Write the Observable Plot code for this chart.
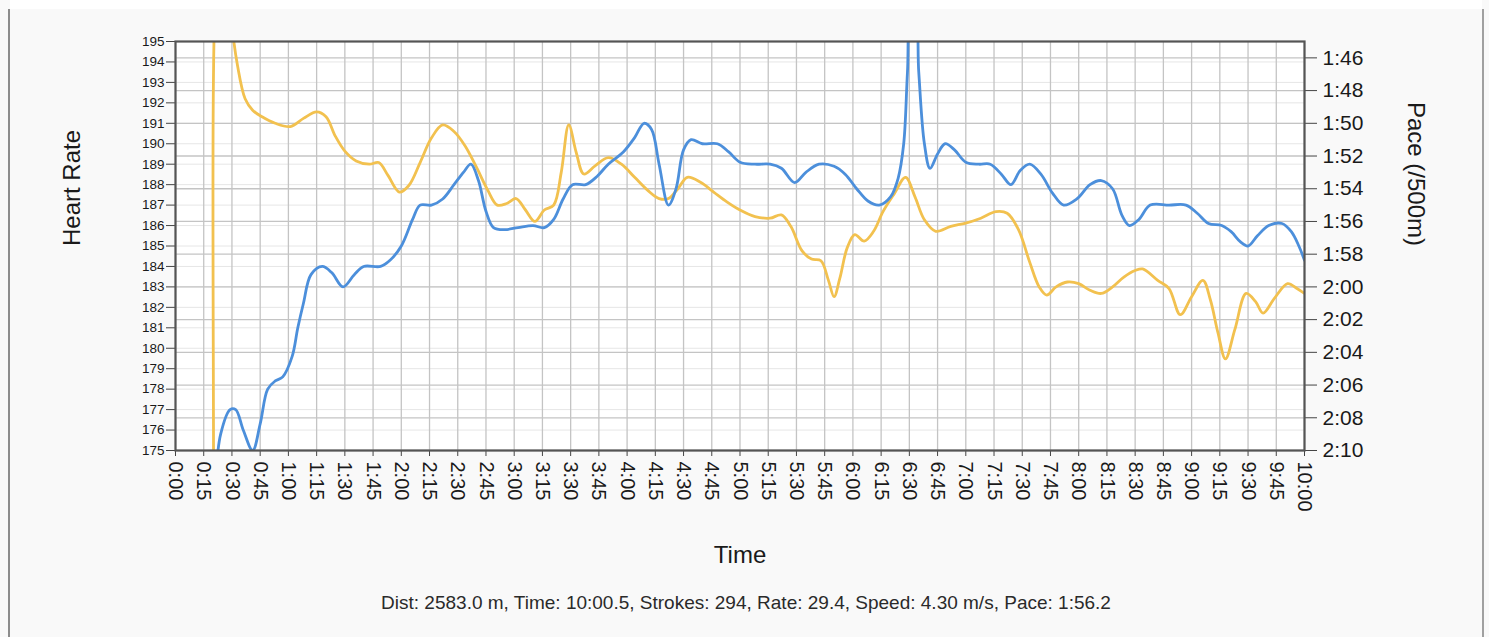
<!DOCTYPE html>
<html>
<head>
<meta charset="utf-8">
<script src="https://cdn.jsdelivr.net/npm/d3@7"></script>
<script src="https://cdn.jsdelivr.net/npm/@observablehq/plot@0.6"></script>
<style>
  html, body { margin: 0; padding: 0; background: #ffffff; }
  #wrap { position: relative; width: 1489px; height: 637px; background: #f9f9f9; overflow: hidden; }
  #wrap .bl { position: absolute; left: 8px; top: 9px; width: 2px; height: 628px; background: #8c8c8c; }
  #wrap .br { position: absolute; left: 1482px; top: 9px; width: 2px; height: 628px; background: #a0a0a0; }
  #wrap .tp { position: absolute; left: 10px; top: 0; width: 1472px; height: 9px; background: #ffffff; }
  #wrap svg { position: absolute; left: 0; top: 0; }
</style>
</head>
<body>
<div id="wrap"><div class="tp"></div><div class="bl"></div><div class="br"></div></div>
<script>
// ---- data (time in seconds) ----
const hrTime = [15,21,24,29,32,36,41,45,49,53,57,62,65,68,72,78,83,89,95,100,109,114,120,126,130,136,142,148,153,157,161,165,169,175,182,190,196,201,206,211,218,224,230,238,244,249,253,257,262,266,270,274,280,288,294,300,308,316,322,329,335,342,350,356,362,368,374,380,384,387,389,391,393,395,398,401,405,409,414,420,427,433,439,444,449,454,460,466,472,479,486,492,498,503,507,512,518,528,537,543,549,556,561,566,570,575,581,588,593,597,600];
const hrValues = [168,173.5,175.8,177,177,176,175,176.3,178,178.4,178.6,179.6,181,182.2,183.6,184,183.7,183,183.6,184,184,184.3,185,186.3,187,187,187.3,188,188.6,189,188.2,186.7,185.9,185.8,185.9,186,185.9,186.3,187.3,188,188,188.4,189,189.6,190.3,191,190.7,189,187,187.8,189.7,190.2,190,190,189.6,189.1,189,189,188.8,188.1,188.6,189,188.9,188.5,187.8,187.2,187,187.4,188.3,190,193.5,196.5,196.5,193.5,190,188.8,189.5,190,189.7,189.1,189,189,188.5,188,188.7,189,188.5,187.6,187,187.3,188,188.2,187.8,186.5,186,186.3,187,187,187,186.6,186.1,186,185.7,185.2,185,185.5,186,186.1,185.7,185,184.3];

const paceTime = [17,20,22,26,30,33,37,41,46,53,61,68,75,80,85,90,96,103,108,113,119,124,130,136,142,148,154,160,166,171,176,181,186,191,196,201,205,209,213,217,223,230,237,244,251,257,262,267,272,279,286,293,300,308,316,322,327,333,338,343,347,350,353,357,361,366,371,376,382,388,393,398,404,412,420,428,436,442,448,454,459,463,468,474,480,486,492,498,504,510,514,522,528,534,540,546,550,554,558,563,569,574,578,584,591,596,600];
// pace in seconds per 500 m
const paceValues = [160,140,100,97,104,106.5,108.5,109.2,109.6,110,110.2,109.7,109.3,109.6,110.8,111.7,112.3,112.5,112.4,113.2,114.2,113.8,112.4,110.9,110.1,110.5,111.4,112.7,114.1,115,114.9,114.6,115.3,116,115.3,115,113,110.1,111.8,113.1,112.6,112.1,112.5,113.3,114.1,114.6,114.6,114,113.3,113.6,114.2,114.8,115.3,115.7,115.8,115.6,116.3,117.8,118.3,118.4,119.6,120.6,119.5,117.6,116.8,117.2,116.6,115.4,114.3,113.3,114.5,115.9,116.6,116.3,116.1,115.8,115.4,115.5,116.5,118.5,120,120.5,120,119.7,119.8,120.2,120.4,120,119.4,119,118.9,119.6,120.1,121.7,120.6,119.6,120.8,122.8,124.4,122.6,120.4,120.9,121.6,120.7,119.8,120.1,120.4];

const timeTicks = d3.range(0, 601, 15);
const hrTicks = d3.range(175, 196, 1);
const paceTicks = d3.range(106, 131, 2);
const paceDomain = [105, 130];   // top, bottom
const hrDomain = [175, 195];
const captionText = "Dist: 2583.0 m, Time: 10:00.5, Strokes: 294, Rate: 29.4, Speed: 4.30 m/s, Pace: 1:56.2";

// ---- helpers ----
const k = (hrDomain[1] - hrDomain[0]) / (paceDomain[1] - paceDomain[0]);
const paceToHr = p => hrDomain[0] + (paceDomain[1] - p) * k;
const hrToPace = h => paceDomain[1] - (h - hrDomain[0]) / k;
const fmtMS = s => { s = Math.round(s); return Math.floor(s / 60) + ":" + String(s % 60).padStart(2, "0"); };

const hrData = hrTime.map((t, i) => ({t, v: hrValues[i]}));
const paceData = paceTime.map((t, i) => ({t, v: paceToHr(paceValues[i])}));

const blue = "#4c8fdb";
const gold = "#f2c14f";

const chart = Plot.plot({
  width: 1489,
  height: 637,
  marginLeft: 175,
  marginRight: 185,
  marginTop: 41,
  marginBottom: 187,
  style: {background: "transparent", fontFamily: "'Liberation Sans', Arial, sans-serif", color: "#1a1a1a"},
  x: {domain: [0, 600], label: null},
  y: {domain: hrDomain, label: null},
  marks: [
    Plot.frame({fill: "#ffffff"}),
    Plot.gridY(hrTicks, {stroke: "#e6e6e6", strokeOpacity: 1}),
    Plot.gridX(timeTicks, {stroke: "#c4c4c4", strokeOpacity: 1, strokeWidth: 1.3}),
    Plot.gridY(paceTicks.map(paceToHr), {stroke: "#c4c4c4", strokeOpacity: 1, strokeWidth: 1.3}),
    Plot.line(paceData, {x: "t", y: "v", stroke: gold, strokeWidth: 2.8, curve: "catmull-rom", clip: true}),
    Plot.line(hrData, {x: "t", y: "v", stroke: blue, strokeWidth: 2.8, curve: "catmull-rom", clip: true}),
    Plot.axisX({ticks: timeTicks, tickFormat: fmtMS, tickRotate: 90, tickSize: 6, tickPadding: 5, fontSize: 20, label: null, stroke: "#444", fill: "#1a1a1a"}),
    Plot.axisY({anchor: "left", ticks: hrTicks, tickFormat: d => String(d), tickSize: 9, tickPadding: 2, fontSize: 13.5, label: null, stroke: "#444", fill: "#1a1a1a"}),
    Plot.axisY({anchor: "right", ticks: paceTicks.map(paceToHr), tickFormat: d => fmtMS(hrToPace(d)), tickSize: 12, tickPadding: 6, fontSize: 21, label: null, stroke: "#444", fill: "#1a1a1a"}),
    Plot.frame({stroke: "#555", strokeWidth: 2.2}),
    Plot.text(["Heart Rate"], {text: d => d, frameAnchor: "left", dx: -103, rotate: -90, fontSize: 24, fill: "#1a1a1a"}),
    Plot.text(["Pace (/500m)"], {text: d => d, frameAnchor: "right", dx: 111, rotate: 90, fontSize: 24, fill: "#1a1a1a"}),
    Plot.text(["Time"], {text: d => d, frameAnchor: "bottom", dy: 112, fontSize: 24, fill: "#1a1a1a"}),
    Plot.text([captionText], {text: d => d, frameAnchor: "bottom", dx: 6, dy: 158, fontSize: 19, fill: "#2a2a2a"})
  ]
});
document.getElementById("wrap").appendChild(chart);
</script>
</body>
</html>
